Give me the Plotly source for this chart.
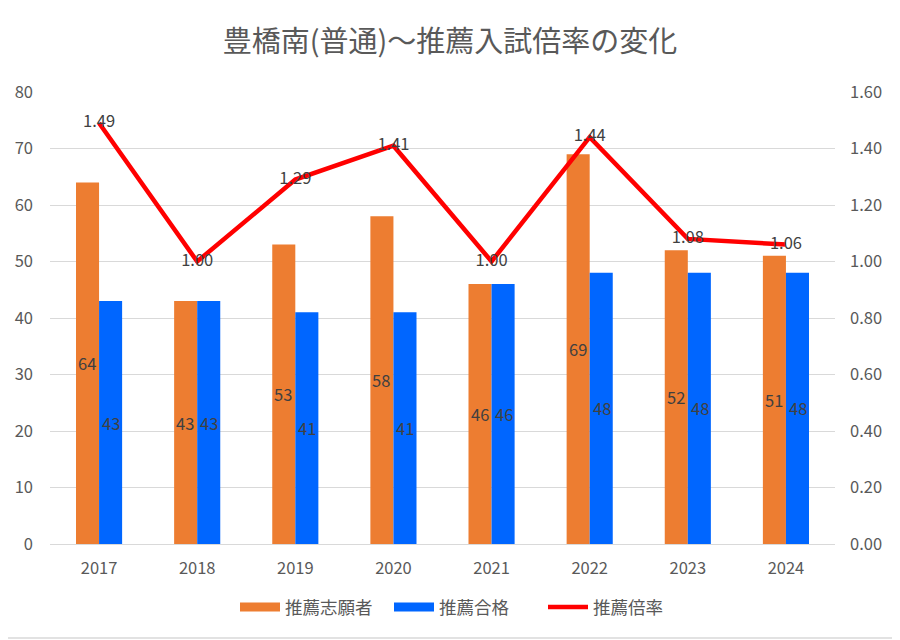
import plotly.graph_objects as go

years = ["2017", "2018", "2019", "2020", "2021", "2022", "2023", "2024"]
applicants = [64, 43, 53, 58, 46, 69, 52, 51]
passed = [43, 43, 41, 41, 46, 48, 48, 48]
ratio = [1.49, 1.00, 1.29, 1.41, 1.00, 1.44, 1.08, 1.06]

FONT = "Noto Sans CJK JP"
GRAY = "#595959"
LABEL = "#404040"
ORANGE = "#ED7D31"
BLUE = "#0066FF"
RED = "#FF0000"

fig = go.Figure()
fig.add_trace(go.Bar(x=years, y=applicants, name="推薦志願者", marker_color=ORANGE,
                     marker_line_width=0, showlegend=False))
fig.add_trace(go.Bar(x=years, y=passed, name="推薦合格", marker_color=BLUE,
                     marker_line_width=0, showlegend=False))
fig.add_trace(go.Scatter(x=years, y=ratio, name="推薦倍率", mode="lines+text", yaxis="y2",
                         line=dict(color=RED, width=4.5), showlegend=False,
                         text=[f"{v:.2f}" for v in ratio], textposition="middle center",
                         textfont=dict(family=FONT, size=16.5, color=LABEL)))
# legend entries (wide rectangular keys like the original)
for name, col, w in [("推薦志願者", ORANGE, 9), ("推薦合格", BLUE, 9), ("推薦倍率", RED, 4.5)]:
    fig.add_trace(go.Scatter(x=[None], y=[None], mode="lines", name=name,
                             line=dict(color=col, width=w), showlegend=True))

annotations = []
for i, (a, p) in enumerate(zip(applicants, passed)):
    annotations.append(dict(x=i, y=a / 2, text=str(a), showarrow=False, xshift=-12,
                            font=dict(family=FONT, size=16.5, color=LABEL)))
    annotations.append(dict(x=i, y=p / 2, text=str(p), showarrow=False, xshift=12,
                            font=dict(family=FONT, size=16.5, color=LABEL)))

FW, FH = 892, 632
W, H = 785, 452
L, T = 42, 84
fig.update_layout(
    width=FW, height=FH,
    margin=dict(l=L, r=FW - L - W, t=T, b=FH - T - H, autoexpand=False),
    paper_bgcolor="white", plot_bgcolor="white",
    barmode="group", bargap=0.53, bargroupgap=0,
    font=dict(family=FONT, color=GRAY),
    title=dict(text="豊橋南(普通)～推薦入試倍率の変化", x=(450 - 8) / FW, xanchor="center",
               y=1 - 34 / FH, yanchor="middle",
               font=dict(family=FONT, size=29, color=GRAY)),
    xaxis=dict(type="category", range=[-0.5, len(years) - 0.5], showgrid=False,
               showline=True, linecolor="#D9D9D9", linewidth=1, automargin=False,
               tickfont=dict(size=16.5, color=GRAY), ticks="", ticklabelstandoff=9),
    yaxis=dict(range=[0, 80], dtick=10, showgrid=True, gridcolor="#D9D9D9", gridwidth=1,
               zeroline=False, showline=False, tickfont=dict(size=16.5, color=GRAY),
               ticklabelstandoff=16, automargin=False),
    yaxis2=dict(range=[0, 1.6], dtick=0.2, tickformat=".2f", overlaying="y", side="right",
                showgrid=False, zeroline=False, showline=False, automargin=False,
                tickfont=dict(size=16.5, color=GRAY), ticklabelstandoff=14),
    legend=dict(orientation="h", x=(466 - 8 - L) / W, xanchor="center",
                y=(T + H - 599) / H, yanchor="middle",
                font=dict(size=17.5, color=GRAY), itemwidth=40, tracegroupgap=0,
                entrywidth=99, entrywidthmode="pixels"),
    annotations=annotations,
    shapes=[
        dict(type="line", xref="paper", yref="paper",
             x0=(890 - L) / W, x1=(890 - L) / W, y0=(T + H - 0) / H, y1=(T + H - 630) / H,
             line=dict(color="#D9D9D9", width=1.5)),
        dict(type="line", xref="paper", yref="paper",
             x0=(0 - L) / W, x1=(890 - L) / W, y0=(T + H - 630) / H, y1=(T + H - 630) / H,
             line=dict(color="#D9D9D9", width=1.5)),
    ],
)

fig.write_html("out.html")
